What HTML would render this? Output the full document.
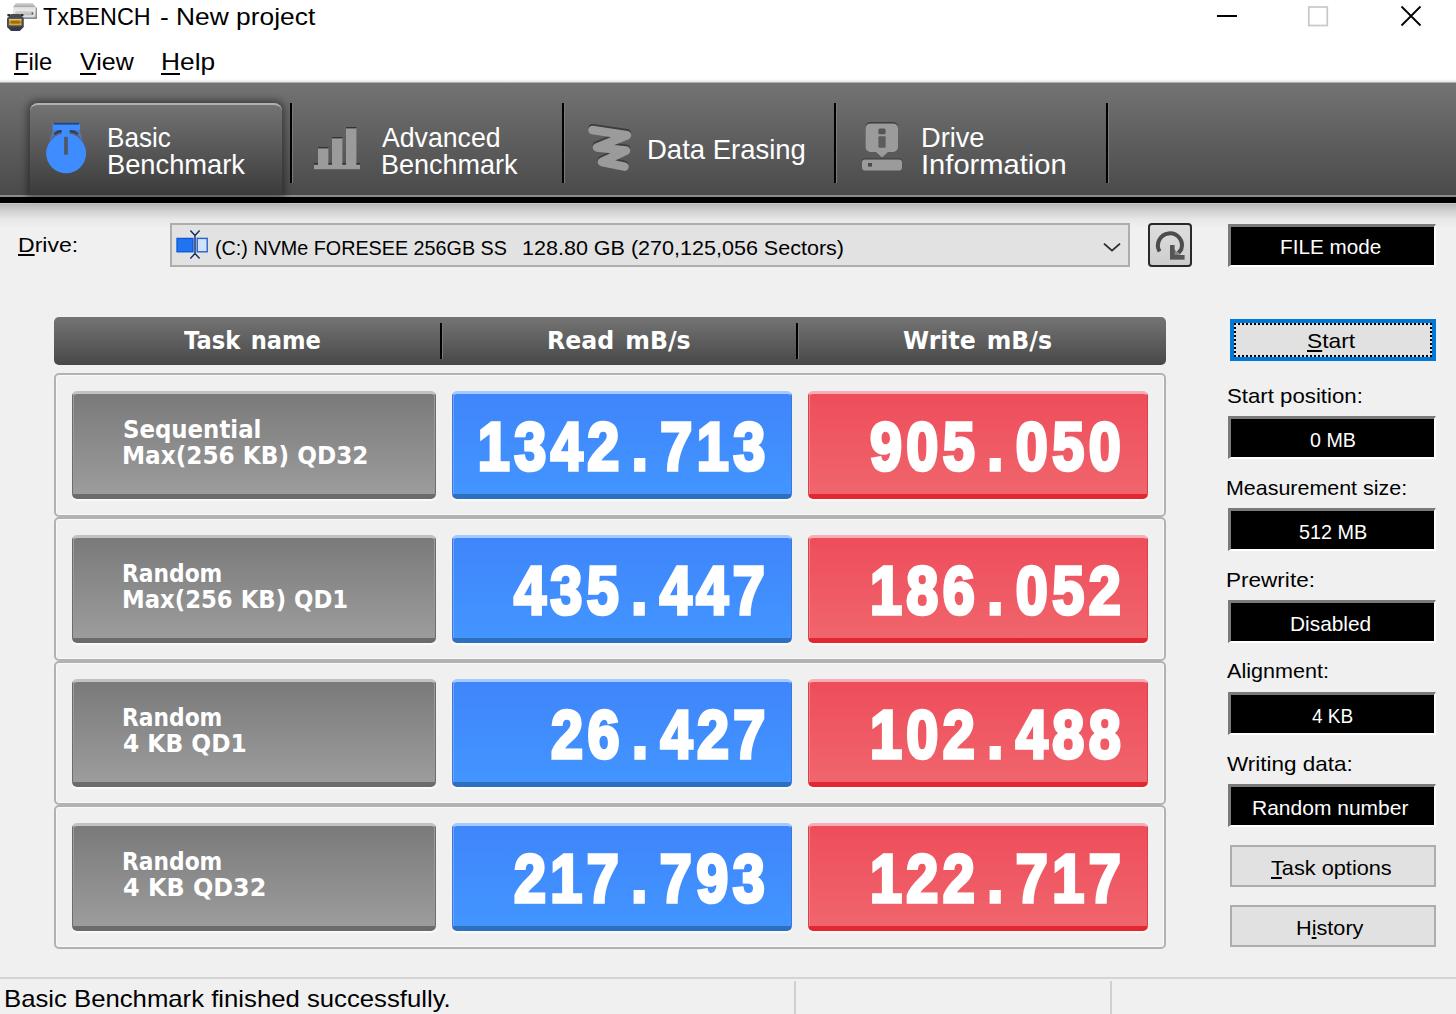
<!DOCTYPE html>
<html><head><meta charset="utf-8"><title>TxBENCH - New project</title>
<style>
*{box-sizing:border-box;margin:0;padding:0}
html,body{width:1456px;height:1014px;overflow:hidden;background:#f0f0f0;font-family:"Liberation Sans",sans-serif;color:#000}
.abs{position:absolute}
.t{position:absolute;white-space:nowrap;transform-origin:0 0}
.t u{text-decoration:underline;text-decoration-thickness:2px;text-underline-offset:.115em;text-decoration-skip-ink:none}
svg{position:absolute;overflow:visible}
#titlebar{left:0;top:0;width:1456px;height:83px;background:linear-gradient(#fff 0,#fff 79px,#e6e6e6 82px,#777 83px)}
#toolbar{left:0;top:83px;width:1456px;height:113px;background:linear-gradient(#737373,#4a4a4a)}
#tbline{left:0;top:195px;width:1456px;height:2px;background:#8c8c8c}
#tbblack{left:0;top:197px;width:1456px;height:6px;background:#000}
#tbfade{left:0;top:203px;width:1456px;height:26px;background:linear-gradient(#d0d0d0 0,#b9b9b9 1.5px,#d4d4d4 9px,#e8e8e8 17px,#f0f0f0 25px)}
.sep{top:103px;width:2px;height:80px;background:#000;box-shadow:1px 0 0 #7a7a7a}
#tab1{left:30px;top:103px;width:252px;height:92px;border-radius:8px 8px 0 0;background:linear-gradient(#737373,#3b3b3b);border-top:2px solid #b0b0b0;box-shadow:0 0 7px 3px rgba(0,0,0,.4)}
#combo{left:170px;top:223px;width:960px;height:44px;background:#e2e2e2;border:2px solid #adadad}
#refresh{left:1148px;top:223px;width:44px;height:44px;border:2px solid #2a2a2a;border-radius:4px;background:linear-gradient(#dedede,#cdcdcd)}
.blk{left:1228px;width:208px;height:43px;background:#000;border:solid;border-width:3px 2px 2px 3px;border-color:#7a7a7a #fff #fff #7a7a7a}
.btn{left:1230px;width:206px;height:42px;background:#e1e1e1;border:2px solid #adadad}
#start{top:319px;border:4px solid #0078d7}
#start i{position:absolute;left:0;top:0;right:0;bottom:0;border:2px dotted #000}
#hdr{left:54px;top:317px;width:1112px;height:48px;border-radius:5px;background:linear-gradient(#747474,#484848)}
.hsep{top:323px;width:2px;height:36px;background:#000;box-shadow:1px 0 0 #7a7a7a}
.row{left:54px;width:1112px;height:144px;border:2px solid #b2b2b2;border-radius:5px;box-shadow:inset 0 0 0 1px #f8f8f8}
.cell{height:108px;border-radius:5px;box-shadow:0 2px 1px #fafafa}
.g{left:72px;width:364px;background:linear-gradient(#7a7a7a,#9c9c9c);border:1px solid #6c6c6c;border-top:3px solid #c2c2c2;border-bottom:5px solid #6b6b6b;box-shadow:inset 1px 0 0 #9a9a9a,inset -1px 0 0 #9a9a9a,0 2px 1px #fafafa}
.b{left:452px;width:340px;background:linear-gradient(#3f85fb,#4295ff);border:1px solid #3b78dc;border-top:3px solid #a6caff;border-bottom:5px solid #2f6fc0;box-shadow:inset 1px 0 0 #6ea6ff,0 2px 1px #fafafa}
.r{left:808px;width:340px;background:linear-gradient(#ee4d5a,#f0656d);border:1px solid #d8404c;border-top:3px solid #f7adb3;border-bottom:5px solid #e4272f;box-shadow:inset 1px 0 0 #f4808a,0 2px 1px #fafafa}
.num{color:#fff;font-weight:bold;font-size:68.5px;line-height:70px;white-space:nowrap;transform-origin:100% 50%;transform:scaleX(.84);-webkit-text-stroke:3.6px #fff}
.num span{display:inline-block;width:43.45px;text-align:center}
#status{left:0;top:977px;width:1456px;height:37px;border-top:2px solid #d4d4d4;background:#f0f0f0}
.ssep{top:981px;width:2px;height:33px;background:#d0d0d0}
</style></head><body>
<div class="abs" id="titlebar"></div>
<div class="abs" id="toolbar"></div>
<div class="abs" id="tbline"></div>
<div class="abs" id="tbblack"></div>
<div class="abs" id="tbfade"></div>
<div class="abs" id="tab1"></div>
<div class="abs sep" style="left:290px"></div>
<div class="abs sep" style="left:562px"></div>
<div class="abs sep" style="left:834px"></div>
<div class="abs sep" style="left:1106px"></div>
<div class="abs" id="combo"></div>
<div class="abs" id="refresh"></div>
<div class="abs blk" style="top:224px"></div>
<div class="abs btn" id="start"><i></i></div>
<div class="abs blk" style="top:416px"></div><div class="abs blk" style="top:508px"></div><div class="abs blk" style="top:600px"></div><div class="abs blk" style="top:692px"></div><div class="abs blk" style="top:784px"></div>
<div class="abs btn" style="top:845px"></div>
<div class="abs btn" style="top:905px"></div>
<div class="abs" id="hdr"></div>
<div class="abs hsep" style="left:440px"></div>
<div class="abs hsep" style="left:796px"></div>
<div class="abs row" style="top:373px"></div>
<div class="abs row" style="top:517px"></div>
<div class="abs row" style="top:661px"></div>
<div class="abs row" style="top:805px"></div>
<div class="abs cell g" style="top:391px"></div><div class="abs cell b" style="top:391px"></div><div class="abs cell r" style="top:391px"></div>
<div class="abs cell g" style="top:535px"></div><div class="abs cell b" style="top:535px"></div><div class="abs cell r" style="top:535px"></div>
<div class="abs cell g" style="top:679px"></div><div class="abs cell b" style="top:679px"></div><div class="abs cell r" style="top:679px"></div>
<div class="abs cell g" style="top:823px"></div><div class="abs cell b" style="top:823px"></div><div class="abs cell r" style="top:823px"></div>
<div class="abs num" style="top:412px;right:688.5px"><span>1</span><span>3</span><span>4</span><span>2</span><span>.</span><span>7</span><span>1</span><span>3</span></div>
<div class="abs num" style="top:412px;right:333px"><span>9</span><span>0</span><span>5</span><span>.</span><span>0</span><span>5</span><span>0</span></div>
<div class="abs num" style="top:556px;right:688.5px"><span>4</span><span>3</span><span>5</span><span>.</span><span>4</span><span>4</span><span>7</span></div>
<div class="abs num" style="top:556px;right:333px"><span>1</span><span>8</span><span>6</span><span>.</span><span>0</span><span>5</span><span>2</span></div>
<div class="abs num" style="top:700px;right:688.5px"><span>2</span><span>6</span><span>.</span><span>4</span><span>2</span><span>7</span></div>
<div class="abs num" style="top:700px;right:333px"><span>1</span><span>0</span><span>2</span><span>.</span><span>4</span><span>8</span><span>8</span></div>
<div class="abs num" style="top:844px;right:688.5px"><span>2</span><span>1</span><span>7</span><span>.</span><span>7</span><span>9</span><span>3</span></div>
<div class="abs num" style="top:844px;right:333px"><span>1</span><span>2</span><span>2</span><span>.</span><span>7</span><span>1</span><span>7</span></div>
<div class="abs" id="status"></div>
<div class="abs ssep" style="left:794px"></div>
<div class="abs ssep" style="left:1110px"></div>
<svg style="left:0;top:0" width="1456" height="1014" viewBox="0 0 1456 1014">
<defs>
<linearGradient id="ga" x1="0" y1="0" x2="0" y2="1"><stop offset="0" stop-color="#e9e9e9"/><stop offset="1" stop-color="#a6a6a6"/></linearGradient>
<linearGradient id="gb" x1="0" y1="0" x2="0" y2="1"><stop offset="0" stop-color="#dcdcdc"/><stop offset="1" stop-color="#9c9c9c"/></linearGradient>
<linearGradient id="gc" x1="0" y1="0" x2="0" y2="1"><stop offset="0" stop-color="#f3d36a"/><stop offset=".5" stop-color="#b9860f"/><stop offset="1" stop-color="#e2b640"/></linearGradient>
</defs>
<!-- app icon -->
<path d="M15.8 3H32.7L36 7.6H13Z" fill="url(#gb)"/>
<rect x="13.4" y="7.5" width="23.5" height="11.2" fill="url(#ga)"/>
<rect x="13.4" y="17.6" width="23.5" height="1.2" fill="#7d7d7d"/>
<rect x="35.8" y="7.5" width="1.1" height="11.2" fill="#8a8a8a"/>
<rect x="14.8" y="10.2" width="19.4" height="5.8" fill="none" stroke="#f6f6f6" stroke-width=".9"/>
<rect x="23" y="16.3" width="11" height=".9" fill="#cfe6f7"/>
<circle cx="32.4" cy="13.4" r=".9" fill="#444"/>
<path d="M11.2 14H19.6L23.8 18.2V26.8L19.6 31H11.2L7 26.8V18.2Z" fill="#454b5a"/>
<path d="M11.2 27H19.6L23.8 26.8L19.6 31H11.2L7 26.8Z" fill="#343a48"/>
<rect x="7.4" y="14" width="2.8" height="2.2" fill="#2b2b2b"/><rect x="20.6" y="14" width="2.8" height="2.2" fill="#2b2b2b"/>
<rect x="8.9" y="18.9" width="12.7" height="6.4" fill="url(#gc)"/>
<rect x="11" y="20.6" width="8.6" height="3" fill="#7a5200" opacity=".55"/>
<!-- window controls -->
<path d="M1217 16H1237" stroke="#000" stroke-width="2"/>
<rect x="1308.8" y="7" width="18.5" height="18.5" fill="none" stroke="#c8c8c8" stroke-width="1.7"/>
<path d="M1401.5 6.5L1420.5 25.5M1420.5 6.5L1401.5 25.5" stroke="#000" stroke-width="1.8"/>
<!-- stopwatch -->
<g fill="#3f8cff">
<rect x="52.6" y="123.4" width="27.4" height="6.6"/>
<rect x="61.6" y="129" width="7.8" height="7"/>
<circle cx="66.1" cy="153.3" r="20"/>
<path d="M52.8 130H58L49.4 141.5Z M79.6 130H74.4L83 141.5Z" opacity=".55"/>
</g>
<rect x="53.6" y="122.8" width="25.6" height="1.8" fill="#1f458c"/>
<path d="M54.2 134Q57.5 131.4 61.6 131.2M70 131.2Q74.6 131.4 78 134" fill="none" stroke="#1f3f7e" stroke-width="2.2"/>
<rect x="64.1" y="136.8" width="3.8" height="17.9" fill="#4e5868"/>
<!-- bars -->
<g fill="#9b9b9b">
<rect x="314" y="164.6" width="46" height="4.6"/>
<rect x="318" y="148" width="10.4" height="17"/>
<rect x="332" y="138" width="10.4" height="27"/>
<rect x="346" y="128" width="10.4" height="37"/>
</g>
<g fill="#333">
<rect x="318" y="147" width="10.4" height="1.4"/><rect x="332" y="137" width="10.4" height="1.4"/><rect x="346" y="127" width="10.4" height="1.4"/>
<rect x="314" y="163" width="4" height="1.6"/><rect x="328.4" y="163" width="3.6" height="1.6"/><rect x="342.4" y="163" width="3.6" height="1.6"/><rect x="356.4" y="163" width="3.6" height="1.6"/>
</g>
<!-- scribble -->
<path d="M592.5 128.2L627 133.3L597 145.6L626 148.8L602 160.1L624.5 165" fill="none" stroke="#3c3c3c" stroke-width="8.6" stroke-linejoin="round" stroke-linecap="round"/>
<path d="M592.5 130L627 135.2L597 147.4L626 150.6L602 162L624.5 166.6" fill="none" stroke="#9b9b9b" stroke-width="8.6" stroke-linejoin="round" stroke-linecap="round"/>
<!-- drive info -->
<rect x="865.5" y="122.3" width="32.5" height="29" rx="5" fill="#333"/>
<path d="M870.5 123.4H893A5 5 0 0 1 898 128.4V147A5 5 0 0 1 893 152H888L882 157.5L876 152H870.5A5 5 0 0 1 865.5 147V128.4A5 5 0 0 1 870.5 123.4Z" fill="#9b9b9b"/>
<rect x="878.4" y="128.6" width="7.2" height="5.6" rx="1.5" fill="#555"/>
<rect x="878.4" y="136.2" width="7.2" height="11.6" rx="1" fill="#5c5c5c"/>
<rect x="862" y="158.4" width="40" height="11" rx="3" fill="#3a3a3a"/>
<rect x="862" y="159.4" width="40" height="11" rx="3" fill="#9b9b9b"/>
<rect x="868" y="163" width="4" height="3.6" fill="#4a4a4a"/>
<!-- combo icon -->
<rect x="177" y="238.4" width="16" height="13.4" fill="#1f74f2" stroke="#0c58d4" stroke-width="1.3"/>
<rect x="197.2" y="238.4" width="10" height="13.4" fill="#cfe3ff" stroke="#2a62c8" stroke-width="1.4"/>
<path d="M195 234V255M190.4 230.6L195 235.4L199.6 230.6M190.4 258.4L195 253.6L199.6 258.4" fill="none" stroke="#0c2a66" stroke-width="1.4"/>
<path d="M1104 243.6L1112 250.6L1120 243.6" fill="none" stroke="#2b2b2b" stroke-width="1.9"/>
<!-- refresh -->
<path d="M1159.6 251.5A12 12 0 1 1 1181.3 249.2L1178.5 253" fill="none" stroke="#4c4c4c" stroke-width="4"/>
<path d="M1170 245V259.4H1184.6Z" fill="#6a6a6a" opacity=".75"/>
<path d="M1170 245H1174.6V255H1184.6V259.4H1170Z" fill="#555"/>
</svg>

<div class="t" style="left:43.2px;top:1.4px;font-size:24px;line-height:31px;transform:scaleX(0.9722)">TxBENCH</div>
<div class="t" style="left:160.0px;top:1.4px;font-size:24px;line-height:31px;transform:scaleX(1.1000)">-</div>
<div class="t" style="left:175.7px;top:1.4px;font-size:24px;line-height:31px;transform:scaleX(1.0988)">New project</div>
<div class="t" style="left:13.5px;top:46.2px;font-size:24px;line-height:31px;transform:scaleX(0.9886)"><u>F</u>ile</div>
<div class="t" style="left:79.9px;top:46.2px;font-size:24px;line-height:31px;transform:scaleX(1.0411)"><u>V</u>iew</div>
<div class="t" style="left:161.2px;top:46.2px;font-size:24px;line-height:31px;transform:scaleX(1.0956)"><u>H</u>elp</div>
<div class="t" style="left:107.4px;top:120.0px;font-size:28px;line-height:36px;color:#fff;transform:scaleX(0.9328)">Basic</div>
<div class="t" style="left:107.4px;top:147.3px;font-size:28px;line-height:36px;color:#fff;transform:scaleX(0.9743)">Benchmark</div>
<div class="t" style="left:382.4px;top:120.0px;font-size:28px;line-height:36px;color:#fff;transform:scaleX(0.9523)">Advanced</div>
<div class="t" style="left:380.5px;top:147.3px;font-size:28px;line-height:36px;color:#fff;transform:scaleX(0.9643)">Benchmark</div>
<div class="t" style="left:646.8px;top:131.8px;font-size:28px;line-height:36px;color:#fff;transform:scaleX(0.9817)">Data Erasing</div>
<div class="t" style="left:921.1px;top:120.0px;font-size:28px;line-height:36px;color:#fff;transform:scaleX(0.9719)">Drive</div>
<div class="t" style="left:920.9px;top:147.3px;font-size:28px;line-height:36px;color:#fff;transform:scaleX(1.0403)">Information</div>
<div class="t" style="left:17.9px;top:230.7px;font-size:21px;line-height:27px;transform:scaleX(1.0961)"><u>D</u>rive:</div>
<div class="t" style="left:215.0px;top:233.5px;font-size:21px;line-height:27px;transform:scaleX(0.9405)">(C:) NVMe FORESEE 256GB SS</div>
<div class="t" style="left:521.8px;top:233.5px;font-size:21px;line-height:27px;transform:scaleX(1.0255)">128.80 GB (270,125,056 Sectors)</div>
<div class="t" style="left:1279.7px;top:233.3px;font-size:21px;line-height:27px;color:#fff;transform:scaleX(0.9848)">FILE mode</div>
<div class="t" style="left:1307.4px;top:327.4px;font-size:21px;line-height:27px;transform:scaleX(1.0828)"><u>S</u>tart</div>
<div class="t" style="left:1227.4px;top:381.8px;font-size:21px;line-height:27px;transform:scaleX(1.0580)">Start position:</div>
<div class="t" style="left:1309.5px;top:425.9px;font-size:21px;line-height:27px;color:#fff;transform:scaleX(0.9353)">0 MB</div>
<div class="t" style="left:1226.4px;top:473.6px;font-size:21px;line-height:27px;transform:scaleX(1.0208)">Measurement size:</div>
<div class="t" style="left:1298.5px;top:517.7px;font-size:21px;line-height:27px;color:#fff;transform:scaleX(0.9444)">512 MB</div>
<div class="t" style="left:1226.3px;top:565.9px;font-size:21px;line-height:27px;transform:scaleX(1.0735)">Prewrite:</div>
<div class="t" style="left:1289.8px;top:610.0px;font-size:21px;line-height:27px;color:#fff;transform:scaleX(0.9933)">Disabled</div>
<div class="t" style="left:1227.4px;top:657.4px;font-size:21px;line-height:27px;transform:scaleX(1.0269)">Alignment:</div>
<div class="t" style="left:1312.0px;top:701.5px;font-size:21px;line-height:27px;color:#fff;transform:scaleX(0.9052)">4 KB</div>
<div class="t" style="left:1227.4px;top:749.7px;font-size:21px;line-height:27px;transform:scaleX(1.0712)">Writing data:</div>
<div class="t" style="left:1251.6px;top:793.8px;font-size:21px;line-height:27px;color:#fff;transform:scaleX(0.9999)">Random number</div>
<div class="t" style="left:1270.7px;top:853.9px;font-size:21px;line-height:27px;transform:scaleX(1.0342)"><u>T</u>ask options</div>
<div class="t" style="left:1296.2px;top:914.0px;font-size:21px;line-height:27px;transform:scaleX(1.0318)">H<u>i</u>story</div>
<div class="t" style="left:3.6px;top:982.8px;font-size:24px;line-height:31px;transform:scaleX(1.0712)">Basic Benchmark finished successfully.</div>
<div class="t" style="left:184.0px;top:325.4px;font-family:'DejaVu Sans','Liberation Sans',sans-serif;font-weight:bold;font-size:25px;line-height:32px;color:#fff;word-spacing:3px;transform:scaleX(0.9029)">Task name</div>
<div class="t" style="left:547.4px;top:325.4px;font-family:'DejaVu Sans','Liberation Sans',sans-serif;font-weight:bold;font-size:25px;line-height:32px;color:#fff;word-spacing:3px;transform:scaleX(0.9462)">Read mB/s</div>
<div class="t" style="left:902.8px;top:325.4px;font-family:'DejaVu Sans','Liberation Sans',sans-serif;font-weight:bold;font-size:25px;line-height:32px;color:#fff;word-spacing:3px;transform:scaleX(0.9447)">Write mB/s</div>
<div class="t" style="left:122.9px;top:414.9px;font-family:'DejaVu Sans','Liberation Sans',sans-serif;font-weight:bold;font-size:24px;line-height:31px;color:#fff;transform:scaleX(0.9526)">Sequential</div>
<div class="t" style="left:122.0px;top:440.9px;font-family:'DejaVu Sans','Liberation Sans',sans-serif;font-weight:bold;font-size:24px;line-height:31px;color:#fff;transform:scaleX(0.9669)">Max(256 KB) QD32</div>
<div class="t" style="left:122.1px;top:558.9px;font-family:'DejaVu Sans','Liberation Sans',sans-serif;font-weight:bold;font-size:24px;line-height:31px;color:#fff;transform:scaleX(0.9085)">Random</div>
<div class="t" style="left:122.0px;top:584.9px;font-family:'DejaVu Sans','Liberation Sans',sans-serif;font-weight:bold;font-size:24px;line-height:31px;color:#fff;transform:scaleX(0.9494)">Max(256 KB) QD1</div>
<div class="t" style="left:122.1px;top:702.9px;font-family:'DejaVu Sans','Liberation Sans',sans-serif;font-weight:bold;font-size:24px;line-height:31px;color:#fff;transform:scaleX(0.9085)">Random</div>
<div class="t" style="left:122.9px;top:728.9px;font-family:'DejaVu Sans','Liberation Sans',sans-serif;font-weight:bold;font-size:24px;line-height:31px;color:#fff;transform:scaleX(0.9719)">4 KB QD1</div>
<div class="t" style="left:122.1px;top:846.9px;font-family:'DejaVu Sans','Liberation Sans',sans-serif;font-weight:bold;font-size:24px;line-height:31px;color:#fff;transform:scaleX(0.9085)">Random</div>
<div class="t" style="left:122.9px;top:872.9px;font-family:'DejaVu Sans','Liberation Sans',sans-serif;font-weight:bold;font-size:24px;line-height:31px;color:#fff;transform:scaleX(0.9949)">4 KB QD32</div>
</body></html>
